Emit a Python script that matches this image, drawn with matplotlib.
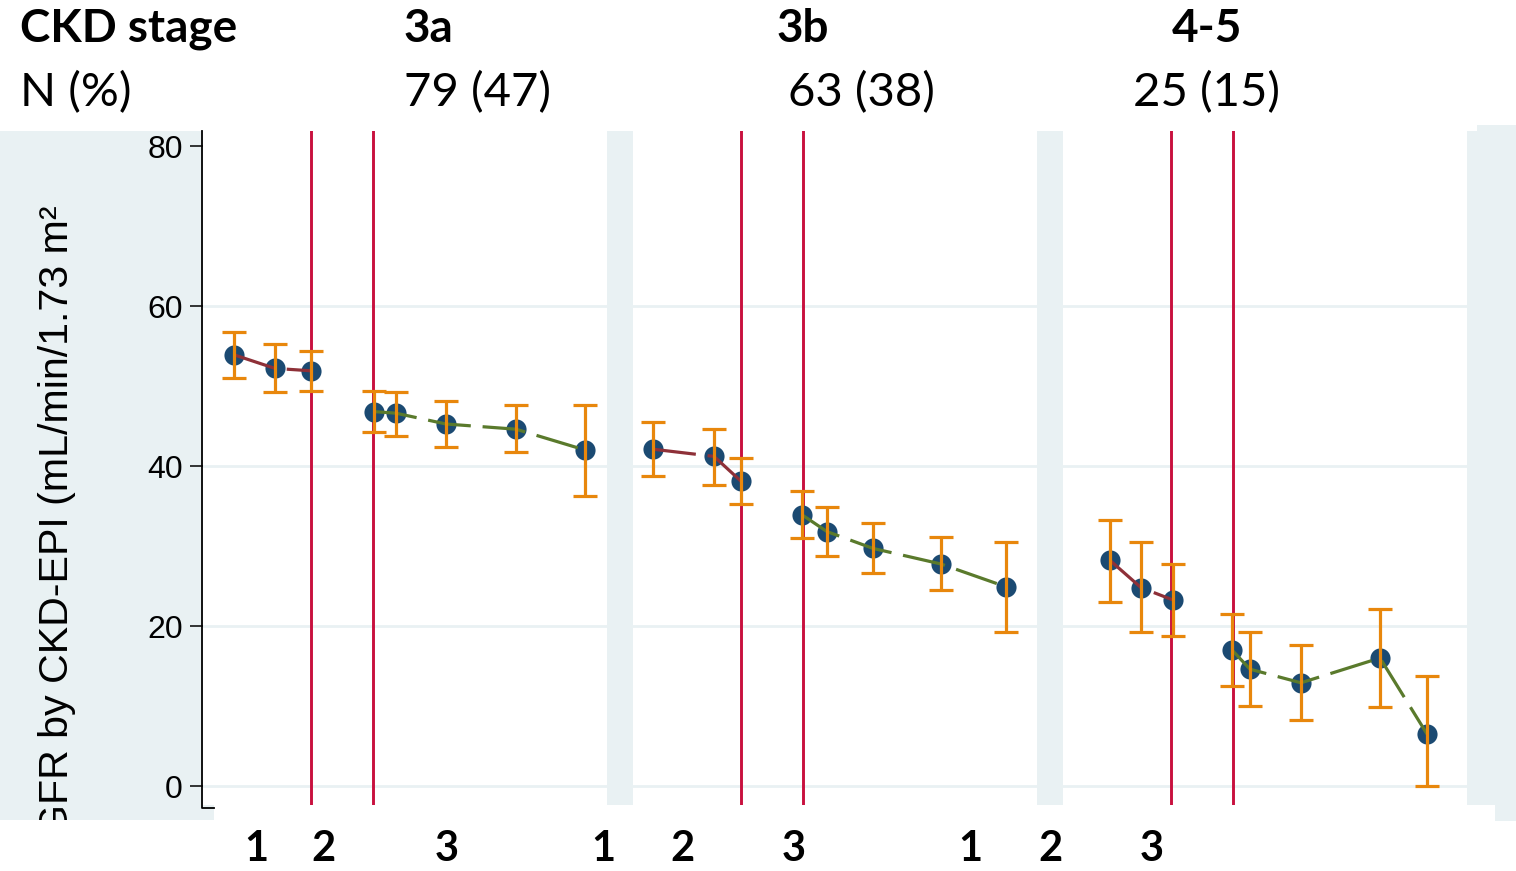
import matplotlib
matplotlib.use("Agg")
import matplotlib.pyplot as plt
from matplotlib.patches import Rectangle
from matplotlib.lines import Line2D

# ---------------- data ----------------
stages = ["3a", "3b", "4-5"]
stage_n = ["79 (47)", "63 (38)", "25 (15)"]
period_labels = ["1", "2", "3"]
yticks = [0, 20, 40, 60, 80]

# time position of each visit within a panel (panel span 0..404)
x_3a = [31, 72, 108, 171, 193, 243, 313, 382]
x_3b = [20, 81, 108, 169, 194, 240, 308, 373]
x_45 = [47, 78, 110, 169, 187, 238, 317, 364]
events = [108, 170]

m_3a = [53.9, 52.2, 51.9, 46.8, 46.6, 45.25, 44.6, 42.0]
lo_3a = [51.0, 49.25, 49.4, 44.2, 43.8, 42.4, 41.7, 36.3]
hi_3a = [56.8, 55.25, 54.4, 49.4, 49.3, 48.1, 47.6, 47.6]

m_3b = [42.1, 41.2, 38.1, 33.9, 31.8, 29.7, 27.75, 24.9]
lo_3b = [38.75, 37.6, 35.25, 31.0, 28.75, 26.6, 24.5, 19.2]
hi_3b = [45.5, 44.6, 41.0, 36.9, 34.9, 32.9, 31.1, 30.5]

m_45 = [28.2, 24.8, 23.25, 17.0, 14.6, 12.9, 16.0, 6.5]
lo_45 = [23.0, 19.2, 18.8, 12.5, 10.0, 8.2, 9.9, 0.0]
hi_45 = [33.3, 30.5, 27.75, 21.5, 19.2, 17.6, 22.1, 13.8]

panels = [(x_3a, m_3a, lo_3a, hi_3a), (x_3b, m_3b, lo_3b, hi_3b), (x_45, m_45, lo_45, hi_45)]
n_pre = 3

# ---------------- style ----------------
W, H = 1516, 871
BG = "#E9F1F3"
C_MARK = "#1B4A72"
C_ERR = "#E8870C"
C_PRE = "#8E3038"
C_POST = "#5A7A2C"
C_EVT = "#C8103E"
TXT_FONT = ["Lato", "DejaVu Sans"]
AX_FONT = ["Liberation Sans", "DejaVu Sans"]

fig = plt.figure(figsize=(W / 100, H / 100), dpi=100)
fig.patch.set_facecolor("white")

# background / decoration axes in pixel coordinates
bg = fig.add_axes([0, 0, 1, 1], zorder=0)
bg.set_xlim(0, W)
bg.set_ylim(H, 0)
bg.axis("off")

left_rect = Rectangle((0, 131), 214, 689, facecolor=BG, edgecolor="none")
bg.add_patch(left_rect)
for gx in (607, 1037):
    bg.add_patch(Rectangle((gx, 131), 26, 674, facecolor=BG, edgecolor="none"))
bg.add_patch(Rectangle((1467, 131), 49, 674, facecolor=BG, edgecolor="none"))
bg.add_patch(Rectangle((1477, 125), 39, 6, facecolor=BG, edgecolor="none"))
bg.add_patch(Rectangle((1495, 805), 21, 16, facecolor=BG, edgecolor="none"))

ylab = bg.text(68, 205, "eGFR by CKD-EPI (mL/min/1.73 m²", rotation=90,
               rotation_mode="anchor", ha="right", va="baseline",
               fontsize=29.6, family=AX_FONT, color="black")
ylab.set_clip_path(left_rect)
ylab.set_clip_on(True)

# header texts
bg.text(20, 42, "CKD stage", fontsize=33, fontweight="bold", family=TXT_FONT, va="baseline")
bg.text(20, 106, "N (%)", fontsize=34, family=TXT_FONT, va="baseline")
stage_x = [404, 777, 1172]
n_x = [404, 788, 1133]
for s, sx, n, nx in zip(stages, stage_x, stage_n, n_x):
    bg.text(sx, 42, s, fontsize=33, fontweight="bold", family=TXT_FONT, va="baseline")
    bg.text(nx, 106, n, fontsize=34, family=TXT_FONT, va="baseline")

# bottom period labels
period_x = [[256, 323, 447], [603, 682, 794], [970, 1050, 1152]]
for row in period_x:
    for lab, px in zip(period_labels, row):
        bg.text(px, 861, lab, fontsize=30, fontweight="bold", family=TXT_FONT,
                ha="center", va="baseline")

# ---------------- panels ----------------
y_top_px, y_bot_px = 131, 805
y0_px, ppu = 786, 8.0
ylim = ((y0_px - y_bot_px) / ppu, (y0_px - y_top_px) / ppu)
panel_left = [203, 633, 1063]
panel_w = 404

dash = (13.5, 3.7)
for i, (px0, (xs, ms, los, his)) in enumerate(zip(panel_left, panels)):
    ax = fig.add_axes([px0 / W, (H - y_bot_px) / H, panel_w / W, (y_bot_px - y_top_px) / H], zorder=1)
    ax.set_facecolor("white")
    ax.set_xlim(0, panel_w)
    ax.set_ylim(*ylim)
    for sp in ax.spines.values():
        sp.set_visible(False)
    for g in yticks[:-1]:
        ax.axhline(g, color=BG, lw=2.0, zorder=0.5)
    for e in events:
        ax.axvline(e, color=C_EVT, lw=2.1, zorder=1)
    ax.plot(xs, ms, "o", color=C_MARK, ms=14.5, mec="none", zorder=2)
    ax.plot(xs[:n_pre], ms[:n_pre], color=C_PRE, lw=2.3, dashes=dash, zorder=3)
    ax.plot(xs[n_pre:], ms[n_pre:], color=C_POST, lw=2.3, dashes=dash, zorder=3)
    yerr = [[m - l for m, l in zip(ms, los)], [h - m for m, h in zip(ms, his)]]
    ax.errorbar(xs, ms, yerr=yerr, fmt="none", ecolor=C_ERR, elinewidth=2.3,
                capsize=8.6, capthick=2.3, zorder=4)
    ax.set_xticks([])
    if i == 0:
        ax.set_yticks(yticks)
        ax.tick_params(axis="y", direction="out", length=9.4, width=1.1, pad=5,
                       labelsize=23, colors="black")
        for t in ax.get_yticklabels():
            t.set_family(AX_FONT)
    else:
        ax.set_yticks([])

# y axis line with bottom stub
ov = fig.add_axes([0, 0, 1, 1], zorder=5)
ov.set_xlim(0, W)
ov.set_ylim(H, 0)
ov.axis("off")
ov.patch.set_alpha(0)
ov.add_line(Line2D([202, 202, 214], [131, 808, 808], color="black", lw=1.3))

fig.savefig("out.png", dpi=100, facecolor="white")
